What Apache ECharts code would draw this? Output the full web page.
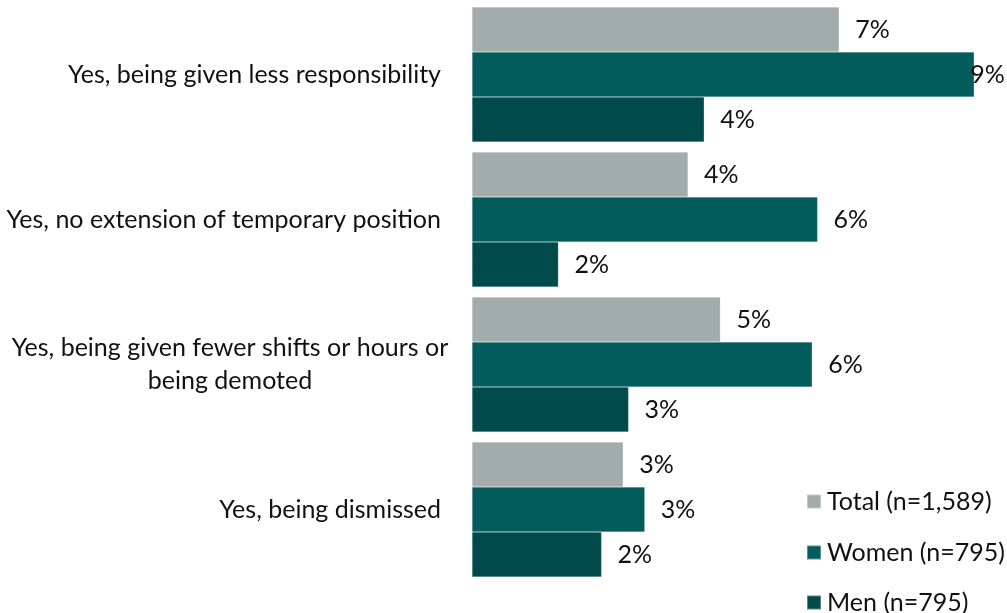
<!DOCTYPE html>
<html>
<head>
<meta charset="utf-8">
<script src="https://cdn.jsdelivr.net/npm/echarts@6/dist/echarts.min.js"></script>
<style>
  html, body { margin: 0; padding: 0; background: #fff; }
  #chart { width: 1007px; height: 613px; }
</style>
</head>
<body>
<div id="chart"></div>
<script>
// categories, top to bottom
const categories = [
  'Yes, being given less responsibility',
  'Yes, no extension of temporary position',
  'Yes, being given fewer shifts or hours or\nbeing demoted',
  'Yes, being dismissed'
]
// percentages
const totalValues = [6.8, 4.0, 4.6, 2.8]
const womenValues = [9.3, 6.4, 6.3, 3.2]
const menValues = [4.3, 1.6, 2.9, 2.4]
const seriesNames = ['Total (n=1,589)', 'Women (n=795)', 'Men (n=795)']
const colors = ['#a2adab', '#025c5c', '#014a4c']

const font = 'Lato, "Open Sans", sans-serif'
const fontSize = 25

const chart = echarts.init(document.getElementById('chart'))

function makeSeries (name, values, color) {
  return {
    name: name,
    type: 'bar',
    barGap: '0%',
    barCategoryGap: '7%',
    itemStyle: { color: color, borderColor: 'rgba(255,255,255,0.35)', borderWidth: 0.5 },
    label: {
      show: true,
      position: 'right',
      distance: 16,
      color: '#111',
      fontSize: fontSize,
      fontFamily: font,
      formatter: p => Math.round(p.value) + '%'
    },
    // the widest bar's label is pulled back so it stays on the page
    data: values.map(v => v > 9 ? { value: v, label: { distance: -4 } } : v)
  }
}

// one legend block per series so they stack like the original
const legendTops = [489, 540, 590]
const legends = seriesNames.map((name, i) => ({
  left: 806,
  top: legendTops[i],
  padding: 0,
  itemWidth: 14,
  itemHeight: 14,
  icon: 'rect',
  textStyle: { fontSize: fontSize, color: '#111', fontFamily: font, padding: [0, 0, 0, 1] },
  data: [name]
}))

const option = {
  animation: false,
  textStyle: { fontFamily: font },
  grid: { left: 472, right: 22, top: 2, bottom: 31 },
  legend: legends,
  xAxis: {
    type: 'value',
    min: 0,
    max: 9.5,
    show: false
  },
  yAxis: {
    type: 'category',
    inverse: true,
    data: categories,
    axisLine: { show: false },
    axisTick: { show: false },
    axisLabel: {
      margin: 31,
      fontSize: fontSize,
      color: '#111',
      fontFamily: font,
      lineHeight: 33,
      formatter: v => {
        if (v.indexOf('\n') < 0) return v
        return v.split('\n').map(s => '{c|' + s + '}').join('\n')
      },
      rich: {
        c: { width: 422, align: 'center', fontSize: fontSize, fontFamily: font, color: '#111', lineHeight: 33 }
      }
    }
  },
  series: [
    makeSeries(seriesNames[0], totalValues, colors[0]),
    makeSeries(seriesNames[1], womenValues, colors[1]),
    makeSeries(seriesNames[2], menValues, colors[2])
  ]
}

chart.setOption(option)
</script>
</body>
</html>
